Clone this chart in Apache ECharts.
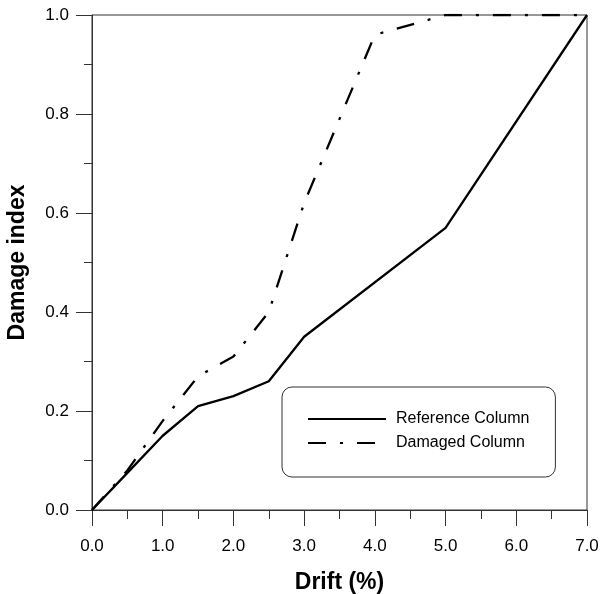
<!DOCTYPE html>
<html>
<head>
<meta charset="utf-8">
<script src="https://cdn.jsdelivr.net/npm/echarts@6/dist/echarts.min.js"></script>
<style>html,body{margin:0;padding:0;background:#fff;}#c{width:602px;height:594px;}</style>
</head>
<body>
<div id="c"></div>
<script>
var refDrift = [0, 0.5, 1.0, 1.5, 2.0, 2.5, 3.0, 5.0, 7.0];
var refIndex = [0, 0.075, 0.15, 0.21, 0.23, 0.26, 0.35, 0.57, 1.0];
var dmgDrift = [0, 0.5, 1.0, 1.5, 2.0, 2.5, 3.0, 4.0, 5.0, 7.0];
var dmgIndex = [0, 0.08, 0.18, 0.27, 0.31, 0.40, 0.62, 0.96, 1.0, 1.0];
var seriesNames = ['Reference Column', 'Damaged Column'];
var xTitle = 'Drift (%)';
var yTitle = 'Damage index';

function pairs(xs, ys) { return xs.map(function (x, i) { return [x, ys[i]]; }); }

var FONT = '"Liberation Sans", Arial, sans-serif';
var axisCol = '#333';
var chart = echarts.init(document.getElementById('c'), null, { renderer: 'canvas' });
chart.setOption({
  animation: false,
  backgroundColor: '#fff',
  grid: { left: 92, right: 15, top: 15, bottom: 84, outerBoundsMode: 'none', containLabel: false,
          show: true, borderColor: axisCol, borderWidth: 1, backgroundColor: 'transparent' },
  legend: {
    orient: 'vertical', left: 282, top: 387,
    padding: [24, 26, 26, 25],
    borderColor: axisCol, borderWidth: 1, borderRadius: 10,
    itemWidth: 78, itemHeight: 14, itemGap: 8,
    itemStyle: { opacity: 0 },
    textStyle: { fontFamily: FONT, fontSize: 16, color: '#000', padding: [0, 0, 0, 5] },
    data: seriesNames
  },
  xAxis: {
    type: 'value', min: 0, max: 7, interval: 1,
    name: xTitle, nameLocation: 'middle', nameGap: 61,
    nameTextStyle: { fontFamily: FONT, fontSize: 23, fontWeight: 'bold', color: '#000' },
    axisLine: { show: true, onZero: false, lineStyle: { color: axisCol, width: 1 } },
    axisTick: { show: true, inside: false, length: 16, lineStyle: { color: axisCol, width: 1 } },
    minorTick: { show: true, splitNumber: 2, length: 9, lineStyle: { color: axisCol, width: 1 } },
    splitLine: { show: false },
    axisLabel: { fontFamily: FONT, fontSize: 17, color: '#000', margin: 28, formatter: function (v) { return v.toFixed(1); } }
  },
  yAxis: {
    type: 'value', min: 0, max: 1, interval: 0.2,
    name: yTitle, nameLocation: 'middle', nameGap: 63, nameRotate: 90,
    nameTextStyle: { fontFamily: FONT, fontSize: 23, fontWeight: 'bold', color: '#000' },
    axisLine: { show: true, onZero: false, lineStyle: { color: axisCol, width: 1 } },
    axisTick: { show: true, inside: false, length: 16, lineStyle: { color: axisCol, width: 1 } },
    minorTick: { show: true, splitNumber: 2, length: 8, lineStyle: { color: axisCol, width: 1 } },
    splitLine: { show: false },
    axisLabel: { fontFamily: FONT, fontSize: 17, color: '#000', margin: 23, formatter: function (v) { return v.toFixed(1); } }
  },
  series: [
    { name: seriesNames[0], type: 'line', symbol: 'none', data: pairs(refDrift, refIndex),
      lineStyle: { color: '#000', width: 2.3, type: 'solid' }, itemStyle: { color: '#000' } },
    { name: seriesNames[1], type: 'line', symbol: 'none', data: pairs(dmgDrift, dmgIndex),
      lineStyle: { color: '#000', width: 2.3, type: [18, 14, 3, 14], cap: 'butt' }, itemStyle: { color: '#000' } }
  ]
});
</script>
</body>
</html>
